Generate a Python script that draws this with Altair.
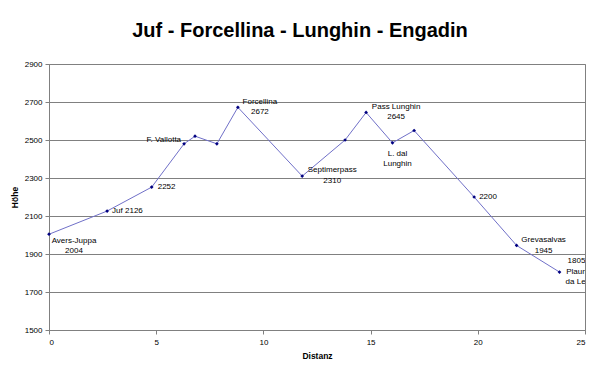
import altair as alt
import pandas as pd

# --- data ---
distanz = [0, 2.71, 4.79, 6.30, 6.81, 7.83, 8.81, 11.81, 13.81, 14.79, 16.02, 17.03, 19.83, 21.81, 23.81]
hoehe = [2004, 2126, 2252, 2480, 2520, 2480, 2672, 2310, 2500, 2645, 2485, 2550, 2200, 1945, 1805]
namen = ["Avers-Juppa\n2004", "Juf 2126", "2252", "F. Vallotta", "", "", "Forcellina\n2672",
         "Septimerpass\n2310", "", "Pass Lunghin\n2645", "L. dal\nLunghin", "", "2200",
         "Grevasalvas\n1945", "1805\nPlaun\nda Lej"]
x_ticks = [0, 5, 10, 15, 20, 25]
y_ticks = [1500, 1700, 1900, 2100, 2300, 2500, 2700, 2900]

df = pd.DataFrame({"Distanz": distanz, "Höhe": hoehe, "Name": namen, "Ord": list(range(len(distanz)))})

FONT = "Liberation Sans"

x = alt.X("Distanz:Q", scale=alt.Scale(domain=[0, 25], nice=False),
          axis=alt.Axis(values=x_ticks, title="Distanz", grid=False, format="d"))
y = alt.Y("Höhe:Q", scale=alt.Scale(domain=[1500, 2900], nice=False),
          axis=alt.Axis(values=y_ticks, title="Höhe", grid=True, format="d"))

base = alt.Chart(df)

line = base.mark_line(color="#7070C8", strokeWidth=1).encode(x=x, y=y, order="Ord:Q")
pts = base.mark_point(shape="diamond", filled=True, size=14, color="#000080", opacity=1).encode(x=x, y=y)

# label placement (style only): align, dx, dy of first line
placement = {
    "Avers-Juppa\n2004": ("center", 25, 6.5),
    "Juf 2126": ("left", 5, 0),
    "2252": ("left", 6, 0),
    "F. Vallotta": ("right", -3, -4),
    "Forcellina\n2672": ("center", 22, -5.5),
    "Septimerpass\n2310": ("center", 30, -6),
    "Pass Lunghin\n2645": ("center", 30, -5.5),
    "L. dal\nLunghin": ("center", 5, 11),
    "2200": ("left", 5, 0),
    "Grevasalvas\n1945": ("center", 27, -5),
    "1805\nPlaun\nda Lej": ("center", 17, -11),
}

text_layers = []
for name, (al, dx, dy) in placement.items():
    text_layers.append(
        base.transform_filter(alt.datum.Name == name)
        .mark_text(align=al, baseline="middle", dx=dx, dy=dy, fontSize=8, font=FONT,
                   color="#000000", lineBreak="\n", lineHeight=10.5, clip=True)
        .encode(x=x, y=y, text="Name:N")
    )

chart = alt.layer(line, pts, *text_layers).properties(
    width=536, height=266,
    title=alt.TitleParams("Juf - Forcellina - Lunghin - Engadin", font=FONT, fontSize=20,
                          fontWeight="bold", anchor="middle", dx=-17, offset=19, color="#000000"),
    autosize=alt.AutoSizeParams(type="none"),
    padding={"left": 41, "top": 56, "right": 7, "bottom": 36},
).configure_view(stroke="#808080", strokeWidth=1).configure_axis(
    labelFont=FONT, labelFontSize=8, labelColor="#000000",
    titleFont=FONT, titleFontSize=8.5, titleFontWeight="bold", titleColor="#000000",
    domainColor="#808080", tickColor="#808080", tickSize=4, gridColor="#808080", gridOpacity=1,
).configure_axisX(labelPadding=4, titlePadding=5).configure_axisY(labelPadding=3, titlePadding=5)

chart.save("out.html", embed_options={"renderer": "svg", "actions": False})
